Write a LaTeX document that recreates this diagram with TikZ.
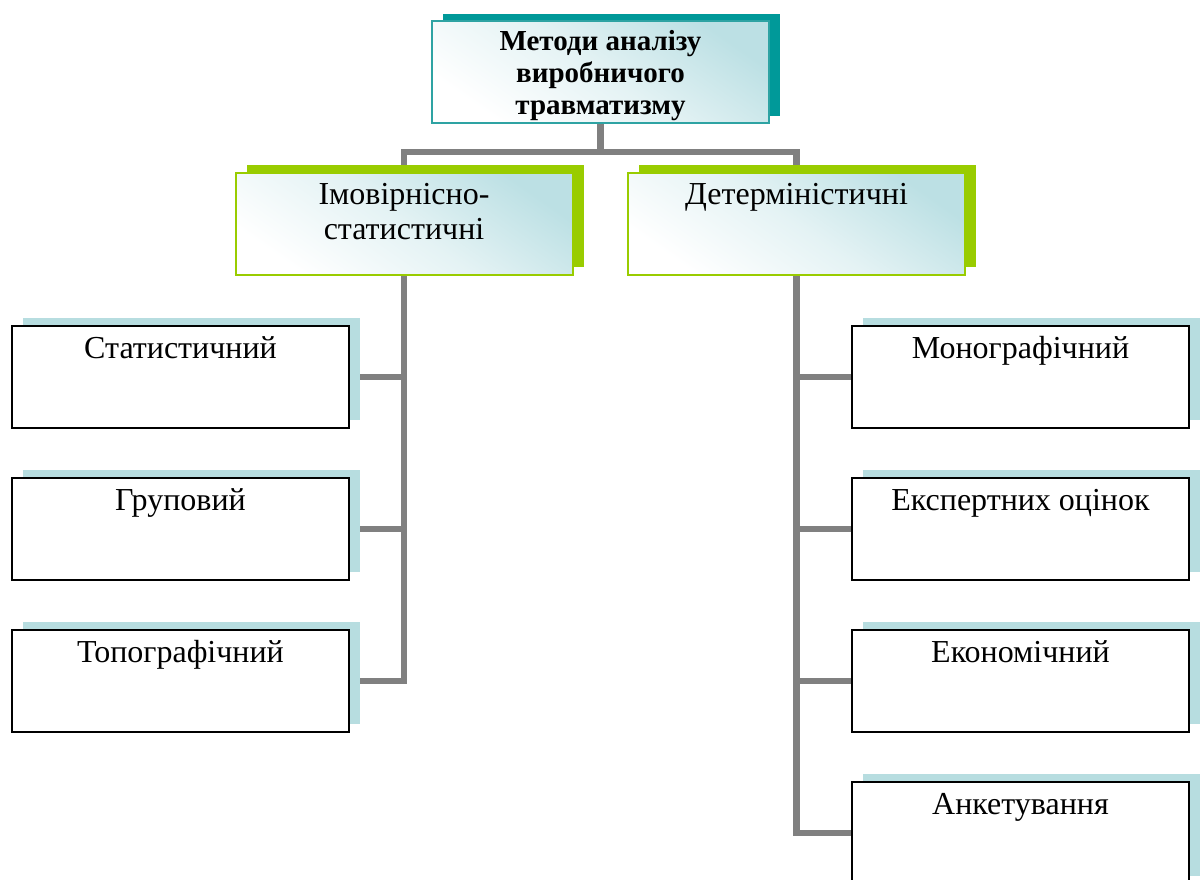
\documentclass[tikz,border=0pt]{standalone}
\usepackage{fontspec}
\setmainfont{Liberation Serif}
\usetikzlibrary{shadows,backgrounds}
\definecolor{tealsh}{HTML}{009999}
\definecolor{tealbd}{HTML}{2EA3A3}
\definecolor{greensh}{HTML}{99CC00}
\definecolor{greenbd}{HTML}{99CC00}
\definecolor{lblue}{HTML}{BCE0E4}
\definecolor{leafsh}{HTML}{B7DDE0}
\definecolor{conncol}{HTML}{808080}
\begin{document}
\begin{tikzpicture}[x=1pt,y=-1pt,
  boxbase/.style={rectangle, inner sep=0pt, outer sep=0pt, minimum width=337pt, minimum height=102pt},
  gradbox/.style={boxbase, top color=lblue, bottom color=white, middle color=white!60!lblue, shading angle=-35},
  topbox/.style={gradbox, draw=tealbd, line width=1.8pt,
    general shadow={fill=tealsh, shadow xshift=11pt, shadow yshift=7pt}},
  midbox/.style={gradbox, draw=greenbd, line width=2pt,
    general shadow={fill=greensh, shadow xshift=11pt, shadow yshift=8pt}},
  leafbox/.style={boxbase, draw=black, line width=2pt, fill=white,
    general shadow={fill=leafsh, shadow xshift=11pt, shadow yshift=8pt}},
  toptext/.style={inner sep=0pt, align=center, font=\fontsize{29}{32}\selectfont\bfseries},
  midtext/.style={inner sep=0pt, align=center, font=\fontsize{32}{35}\selectfont},
  leaftext/.style={inner sep=0pt, anchor=base, font=\fontsize{32}{35}\selectfont},
  conn/.style={draw=conncol, line width=6.5pt}
]
\useasboundingbox (0,0) rectangle (1201,879);

% top
\node[topbox] (top) at (600.5,72) {};
\node[toptext, anchor=north] (toptx) at ([yshift=-9.5pt]top.north) {Методи аналізу\\виробничого\\травматизму};

% middle
\node[midbox] (mid1) at (404,224) {};
\node[midtext, anchor=north] (mid1tx) at ([yshift=-10pt]mid1.north) {Імовірнісно-\\статистичні};
\node[midbox] (mid2) at (796.5,224) {};
\node[midtext, anchor=north] (mid2tx) at ([yshift=-10pt]mid2.north) {Детерміністичні};

% left leaves
\node[leafbox] (l1) at (180.5,377) {};
\node[leaftext] (l1tx) at ([yshift=-32pt]l1.north) {Статистичний};
\node[leafbox] (l2) at (180.5,529) {};
\node[leaftext] (l2tx) at ([yshift=-32pt]l2.north) {Груповий};
\node[leafbox] (l3) at (180.5,681) {};
\node[leaftext] (l3tx) at ([yshift=-32pt]l3.north) {Топографічний};

% right leaves
\node[leafbox] (r1) at (1020.5,377) {};
\node[leaftext] (r1tx) at ([yshift=-32pt]r1.north) {Монографічний};
\node[leafbox] (r2) at (1020.5,529) {};
\node[leaftext] (r2tx) at ([yshift=-32pt]r2.north) {Експертних оцінок};
\node[leafbox] (r3) at (1020.5,681) {};
\node[leaftext] (r3tx) at ([yshift=-32pt]r3.north) {Економічний};
\node[leafbox] (r4) at (1020.5,833) {};
\node[leaftext] (r4tx) at ([yshift=-32pt]r4.north) {Анкетування};

\coordinate (bus) at (600.5,152);

\begin{scope}[on background layer]
  \draw[conn] (top.south) -- (bus);
  \draw[conn] (mid1.north) |- (bus) -| (mid2.north);
  \draw[conn] (mid1.south) |- (l3.east);
  \draw[conn] (mid1.south |- l1.east) -- (l1.east);
  \draw[conn] (mid1.south |- l2.east) -- (l2.east);
  \draw[conn] (mid2.south) |- (r4.west);
  \draw[conn] (mid2.south |- r1.west) -- (r1.west);
  \draw[conn] (mid2.south |- r2.west) -- (r2.west);
  \draw[conn] (mid2.south |- r3.west) -- (r3.west);
\end{scope}
\end{tikzpicture}
\end{document}
